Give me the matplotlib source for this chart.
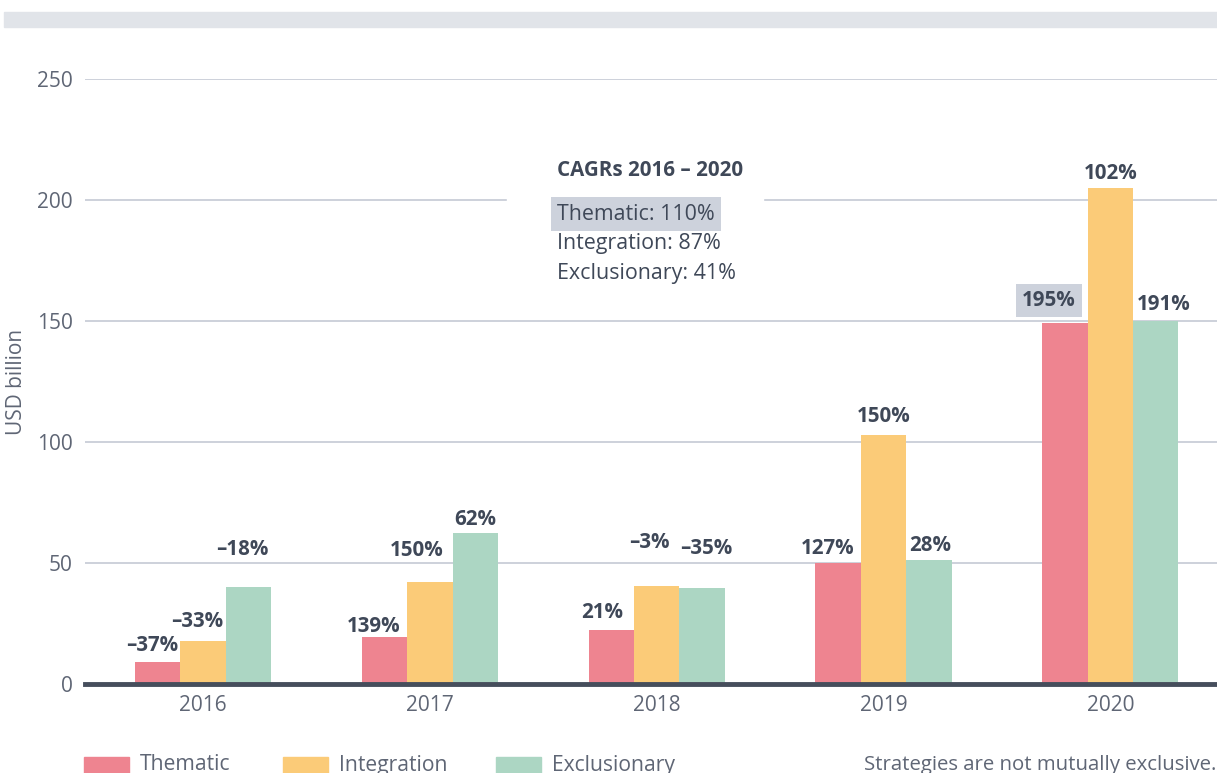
import numpy as np
import matplotlib.pyplot as plt
from matplotlib.patches import Rectangle

plt.rcParams['font.family'] = ['Open Sans', 'DejaVu Sans']

# データ
years = ["2016", "2017", "2018", "2019", "2020"]
series = ["Thematic", "Integration", "Exclusionary"]
thematic = [9.0, 19.3, 22.3, 50.0, 149.3]
integration = [17.7, 42.2, 40.5, 102.9, 205.0]
exclusionary = [39.9, 62.4, 39.7, 51.2, 150.0]
growth_labels = [
    ["–37%", "139%", "21%", "127%", "195%"],
    ["–33%", "150%", "–3%", "150%", "102%"],
    ["–18%", "62%", "–35%", "28%", "191%"],
]
cagr_title = "CAGRs 2016 – 2020"
cagr_lines = ["Thematic: 110%", "Integration: 87%", "Exclusionary: 41%"]
y_ticks = [0, 50, 100, 150, 200, 250]

colors = ["#ee8490", "#fbcb78", "#acd6c3"]
text_dark = "#3f4858"
tick_col = "#5f6675"
grid_col = "#c9ced8"

# ラベル位置の微調整（ピクセル）
label_dx = [[-5, -11, -9, -11, -16], [-6, -13, -7, 0, 0], [-6, 0, 4, 1, 8]]
label_dy = [[17, 11, 18, 14, 22], [20, 31, 43, 18, 14], [38, 13, 39, 15, 17]]

W, H = 1217, 773
fig = plt.figure(figsize=(W / 100, H / 100), dpi=100)


def fx(px):
    return px / W


def fy(py):
    return 1 - py / H


# 上部のグレーの帯
fig.patches.append(Rectangle((fx(4), fy(27)), fx(1217) - fx(4), fy(12) - fy(27),
                             transform=fig.transFigure, color="#e1e4e9", zorder=0))

ax = fig.add_axes([fx(85), fy(684), 1 - fx(85), fy(79) - fy(684)])
x = np.arange(len(years))
w = 0.2
vals = [thematic, integration, exclusionary]
for i, (name, v) in enumerate(zip(series, vals)):
    bars = ax.bar(x + (i - 1) * w, v, width=w, color=colors[i], label=name, zorder=2)
    for j, b in enumerate(bars):
        bbox = None
        if i == 0 and j == 4:
            bbox = dict(boxstyle="square,pad=0.3", fc="#cdd2dc", ec="none")
        ax.annotate(growth_labels[i][j], (b.get_x() + b.get_width() / 2, b.get_height()),
                    xytext=(label_dx[i][j], label_dy[i][j]), textcoords="offset pixels",
                    ha="center", va="center", fontsize=14.8, fontweight="bold",
                    color=text_dark, bbox=bbox, zorder=4)

ax.set_xlim(-0.52, 4.47)
ax.set_ylim(0, 250)
ax.set_yticks(y_ticks)
ax.set_xticks(x)
ax.set_xticklabels(years)
ax.tick_params(axis="both", length=0, labelsize=15, labelcolor=tick_col)
ax.tick_params(axis="y", pad=9)
ax.tick_params(axis="x", pad=8)
for s in ax.spines.values():
    s.set_visible(False)
ax.grid(axis="y", color=grid_col, linewidth=1.3, zorder=0)
ax.set_axisbelow(True)
ax.axhline(0, color="#464e5c", linewidth=3.5, zorder=3, clip_on=False)
ax.set_ylabel("USD billion", fontsize=15, color=tick_col)
ax.yaxis.set_label_coords(-fx(58) / (1 - fx(85)), 0.5)

# CAGR の注記
fig.patches.append(Rectangle((fx(507), fy(215)), fx(763) - fx(507), fy(150) - fy(215),
                             transform=fig.transFigure, color="white", zorder=1))
fig.text(fx(557), fy(170), cagr_title, fontsize=14.8, fontweight="bold",
         color=text_dark, va="center", ha="left", zorder=2)
for k, line in enumerate(cagr_lines):
    bbox = None
    if k == 0:
        bbox = dict(boxstyle="square,pad=0.3", fc="#cdd2dc", ec="none")
    fig.text(fx(557), fy(214 + 29.5 * k), line, fontsize=15.4, color=text_dark,
             va="center", ha="left", bbox=bbox, zorder=2)

# 凡例
leg_x = [84, 283, 496]
for k, name in enumerate(series):
    fig.patches.append(Rectangle((fx(leg_x[k]), fy(773)), fx(45), fy(757) - fy(773),
                                 transform=fig.transFigure, color=colors[k], zorder=1))
    fig.text(fx(leg_x[k] + 56), fy(765), name, fontsize=15.2, color=tick_col,
             va="center", ha="left")
fig.text(fx(1216), fy(765), "Strategies are not mutually exclusive.", fontsize=14.7,
         color=tick_col, va="center", ha="right")

fig.savefig("out.png", dpi=100)
